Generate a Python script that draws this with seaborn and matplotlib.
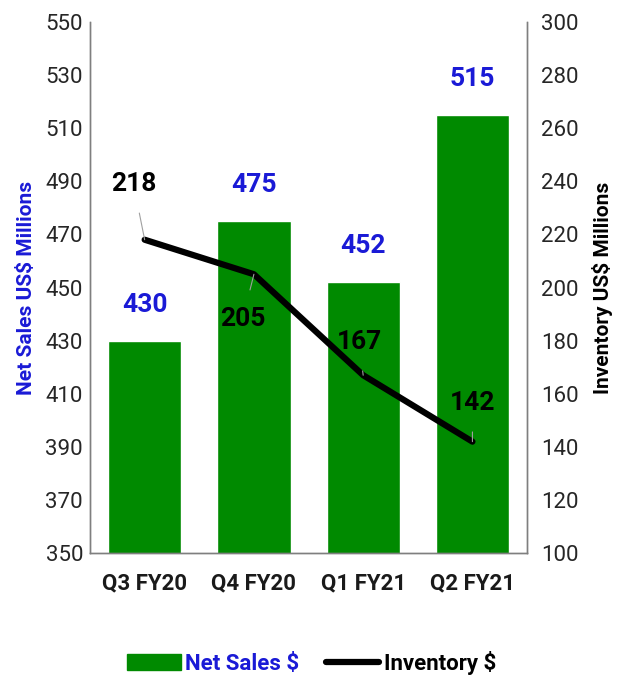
import matplotlib
matplotlib.use("Agg")
import matplotlib.pyplot as plt
from matplotlib.lines import Line2D
from matplotlib.patches import Patch
import seaborn as sns
import pandas as pd

quarters = ["Q3 FY20", "Q4 FY20", "Q1 FY21", "Q2 FY21"]
net_sales = [430, 475, 452, 515]
inventory = [218, 205, 167, 142]
left_ticks = list(range(350, 551, 20))
right_ticks = list(range(100, 301, 20))

sns.set_theme(style="white")
plt.rcParams["font.family"] = ["Roboto", "DejaVu Sans"]

df = pd.DataFrame({"quarter": quarters, "sales": net_sales, "inv": inventory})

green = "#008a00"
blue = "#1a1ad6"
spine_col = "#7f7f7f"

fig = plt.figure(figsize=(6.23, 6.83), dpi=100)
ax = fig.add_axes([0.1445, 0.190, 0.7015, 0.778])

sns.barplot(data=df, x="quarter", y="sales", color=green, width=0.67,
            saturation=1, ax=ax)
ax.set_ylim(350, 550)
ax.set_yticks(left_ticks)
ax.set_xlim(-0.5, 3.5)
ax.set_xlabel("")
ax.set_ylabel("Net Sales US$ Millions", color=blue, fontsize=15,
              fontweight="bold", labelpad=7)
ax.tick_params(axis="y", labelsize=16, labelcolor="#262626", length=0, pad=5)
ax.tick_params(axis="x", labelsize=16, length=0, pad=14)
for lbl in ax.get_xticklabels():
    lbl.set_fontweight("bold")
    lbl.set_color("#1a1a1a")

for i, v in enumerate(net_sales):
    ax.text(i, v + 9, str(v), ha="center", va="bottom", color=blue,
            fontsize=19, fontweight="bold")

ax2 = ax.twinx()
sns.lineplot(data=df, x="quarter", y="inv", color="black", linewidth=4.5,
             sort=False, ax=ax2)
ax2.set_ylim(100, 300)
ax2.set_yticks(right_ticks)
ax2.set_ylabel("Inventory US$ Millions", color="black", fontsize=15,
               fontweight="bold", labelpad=10)
ax2.tick_params(axis="y", labelsize=16, labelcolor="#262626", length=0, pad=10)

offsets = [(-8, 40), (-8, -32), (-3, 24), (0, 28)]
for i, (v, (dx, dy)) in enumerate(zip(inventory, offsets)):
    ax2.annotate(str(v), xy=(i, v), xytext=(dx, dy), textcoords="offset points",
                 ha="center", va="center", fontsize=19, fontweight="bold",
                 color="black",
                 arrowprops=dict(arrowstyle="-", color="#a0a0a0", lw=0.8,
                                 shrinkA=10, shrinkB=0))

for a in (ax, ax2):
    a.spines["top"].set_visible(False)
    for s in ("left", "right", "bottom"):
        a.spines[s].set_color(spine_col)
        a.spines[s].set_linewidth(1.0)
    a.grid(False)

handles = [Patch(facecolor=green, edgecolor=green),
           Line2D([0], [0], color="black", linewidth=4.5)]
leg = fig.legend(handles, ["Net Sales $", "Inventory $"], loc="center",
                 bbox_to_anchor=(0.5, 0.03), ncol=2, frameon=False,
                 fontsize=16, handlelength=2.4, handletextpad=0.2,
                 columnspacing=1.2)
for t, c in zip(leg.get_texts(), [blue, "black"]):
    t.set_color(c)
    t.set_fontweight("bold")

fig.savefig("out.png", dpi=100)
